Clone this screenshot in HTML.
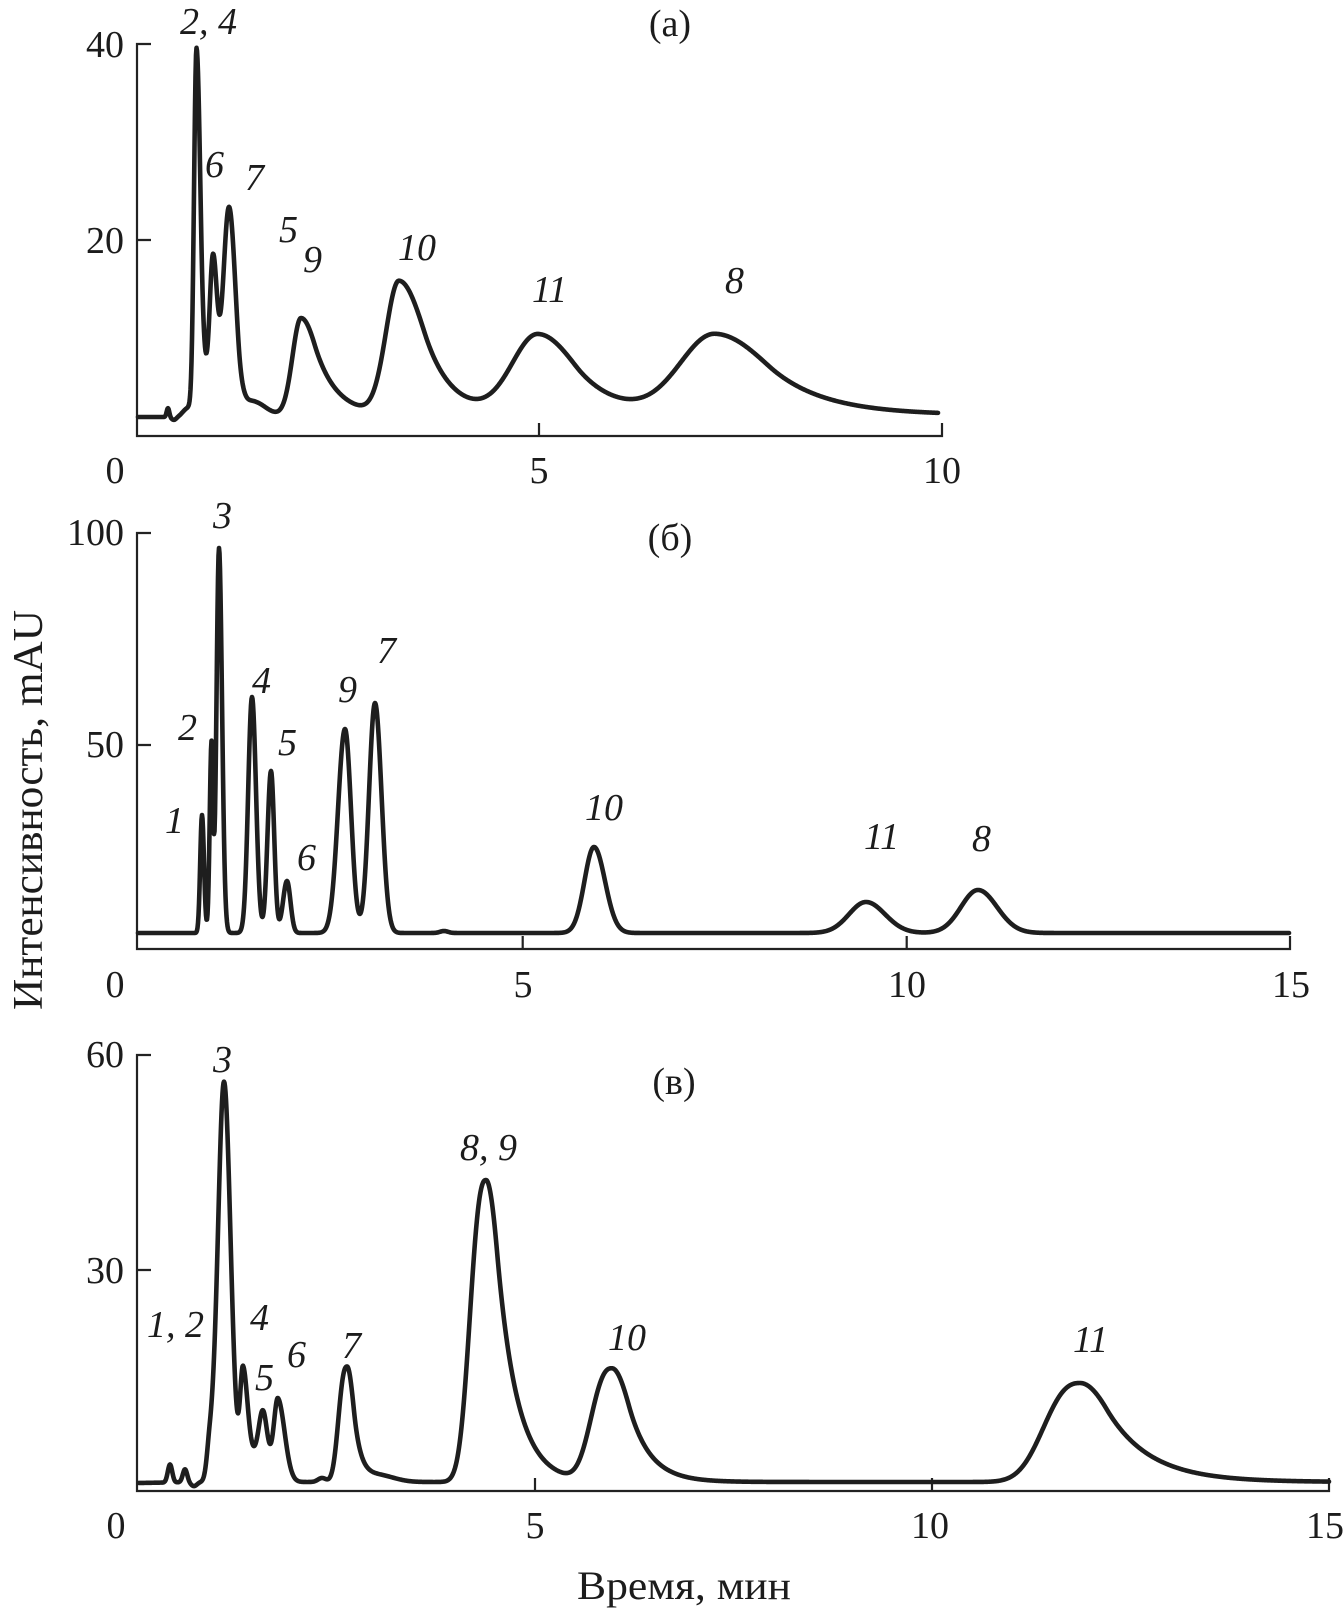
<!DOCTYPE html>
<html>
<head>
<meta charset="utf-8">
<style>
  html, body { margin: 0; padding: 0; background: #ffffff; }
  svg { display: block; }
  text { font-family: "Liberation Serif", "DejaVu Serif", serif; fill: #1c1c1c; }
  .tk { font-size: 38px; }
  .lb { font-size: 38px; font-style: italic; }
  .ax { stroke: #222; stroke-width: 2.2; fill: none; }
  .cv { stroke: #1e1e1e; stroke-width: 4.6; fill: none; stroke-linejoin: round; stroke-linecap: round; }
</style>
</head>
<body>
<svg id="chart" width="1344" height="1613" viewBox="0 0 1344 1613" xmlns="http://www.w3.org/2000/svg">
  <rect x="0" y="0" width="1344" height="1613" fill="#ffffff"/>

  <!-- ===== Panel (a) ===== -->
  <path class="ax" d="M151,44 L137,44 L137,436 L942,436 L942,423"/>
  <path class="ax" d="M137,240 L151,240 M539,436 L539,423"/>
  <text class="tk" x="124" y="57" text-anchor="end">40</text>
  <text class="tk" x="124" y="253" text-anchor="end">20</text>
  <text class="tk" x="115" y="483" text-anchor="middle">0</text>
  <text class="tk" x="539" y="483" text-anchor="middle">5</text>
  <text class="tk" x="942" y="483" text-anchor="middle">10</text>
  <text class="tk" x="670" y="36" text-anchor="middle">(a)</text>
  <text class="lb" x="180" y="34">2, 4</text>
  <text class="lb" x="205" y="177">6</text>
  <text class="lb" x="245" y="190">7</text>
  <text class="lb" x="279" y="242">5</text>
  <text class="lb" x="303" y="272">9</text>
  <text class="lb" x="398" y="260">10</text>
  <text class="lb" x="532" y="302">11</text>
  <text class="lb" x="725" y="293">8</text>
  <path id="ca" class="cv" d=""/>

  <!-- ===== Panel (б) ===== -->
  <path class="ax" d="M151,533 L137,533 L137,949 L1290,949 L1290,936"/>
  <path class="ax" d="M137,745 L151,745 M522.7,949 L522.7,936 M906.7,949 L906.7,936"/>
  <text class="tk" x="124" y="545" text-anchor="end">100</text>
  <text class="tk" x="124" y="757" text-anchor="end">50</text>
  <text class="tk" x="115" y="997" text-anchor="middle">0</text>
  <text class="tk" x="523" y="997" text-anchor="middle">5</text>
  <text class="tk" x="907" y="997" text-anchor="middle">10</text>
  <text class="tk" x="1291" y="997" text-anchor="middle">15</text>
  <text class="tk" x="670" y="550" text-anchor="middle">(б)</text>
  <text class="lb" x="213" y="528">3</text>
  <text class="lb" x="178" y="740">2</text>
  <text class="lb" x="165" y="833">1</text>
  <text class="lb" x="252" y="693">4</text>
  <text class="lb" x="278" y="755">5</text>
  <text class="lb" x="297" y="870">6</text>
  <text class="lb" x="338" y="702">9</text>
  <text class="lb" x="377" y="663">7</text>
  <text class="lb" x="585" y="820">10</text>
  <text class="lb" x="864" y="849">11</text>
  <text class="lb" x="972" y="851">8</text>
  <path id="cb" class="cv" d=""/>

  <!-- ===== Panel (в) ===== -->
  <path class="ax" d="M151,1055 L137,1055 L137,1491 L1329,1491 L1329,1478"/>
  <path class="ax" d="M137,1270 L151,1270 M535,1491 L535,1478 M932,1491 L932,1478"/>
  <text class="tk" x="124" y="1067" text-anchor="end">60</text>
  <text class="tk" x="124" y="1283" text-anchor="end">30</text>
  <text class="tk" x="116" y="1538" text-anchor="middle">0</text>
  <text class="tk" x="535" y="1538" text-anchor="middle">5</text>
  <text class="tk" x="930" y="1538" text-anchor="middle">10</text>
  <text class="tk" x="1325" y="1538" text-anchor="middle">15</text>
  <text class="tk" x="674" y="1094" text-anchor="middle">(в)</text>
  <text class="lb" x="213" y="1072">3</text>
  <text class="lb" x="147" y="1337">1, 2</text>
  <text class="lb" x="250" y="1330">4</text>
  <text class="lb" x="255" y="1390">5</text>
  <text class="lb" x="287" y="1367">6</text>
  <text class="lb" x="342" y="1358">7</text>
  <text class="lb" x="460" y="1160">8, 9</text>
  <text class="lb" x="608" y="1350">10</text>
  <text class="lb" x="1073" y="1352">11</text>
  <path id="cc" class="cv" d=""/>

  <!-- Axis titles -->
  <text transform="translate(42,810) rotate(-90)" text-anchor="middle" font-size="42" textLength="400" lengthAdjust="spacingAndGlyphs">Интенсивность, mAU</text>
  <text x="577" y="1599" font-size="40" textLength="214" lengthAdjust="spacingAndGlyphs">Время, мин</text>
</svg>

<script>
(function () {
  function f(d, sL, sR, k, pL) {
    if (d < 0) {
      var u = -d / sL;
      return Math.exp(-0.5 * Math.pow(u, pL));
    }
    var v = d / sR;
    if (v < k) return Math.exp(-0.5 * v * v);
    return Math.exp(0.5 * k * k - k * v);
  }
  function build(x0, x1, base, peaks) {
    var s = "";
    for (var x = x0; x <= x1 + 0.001; x += 0.5) {
      var y = base(x);
      for (var i = 0; i < peaks.length; i++) {
        var p = peaks[i];
        var k = (p[4] === undefined) ? 99 : p[4];
        var pL = (p[5] === undefined) ? 2 : p[5];
        y -= p[1] * f(x - p[0], p[2], p[3], k, pL);
      }
      s += (s ? " L" : "M") + x.toFixed(1) + "," + y.toFixed(2);
    }
    return s;
  }
  function lin(pts) {
    return function (x) {
      if (x <= pts[0][0]) return pts[0][1];
      for (var i = 1; i < pts.length; i++) {
        if (x <= pts[i][0]) {
          var a = pts[i - 1], b = pts[i];
          return a[1] + (b[1] - a[1]) * (x - a[0]) / (b[0] - a[0]);
        }
      }
      return pts[pts.length - 1][1];
    };
  }

  // Panel (a)
  var pa = [
    [168, 9, 1.3, 1.3],
    [174, -3, 2.5, 2.5],
    [188, 8, 5, 3],
    [196.5, 367, 2.5, 4, 1.2],
    [213, 150, 3.4, 4],
    [229, 208, 6, 6.5, 1.5],
    [255, 12, 8, 11],
    [301, 97, 8.5, 17, 0.8],
    [399, 133, 13, 26, 1],
    [538, 80, 26, 38, 1],
    [715, 80, 35, 54, 1]
  ];
  document.getElementById("ca").setAttribute("d",
    build(138, 938, lin([[137, 417], [180, 417], [195, 415], [940, 415]]), pa));

  // Panel (б)
  var pb = [
    [202, 118, 1.8, 2],
    [211.5, 188, 1.8, 1.5],
    [219, 385, 2.5, 3],
    [252, 236, 3.8, 4],
    [271, 162, 3.5, 3.2],
    [287, 52, 4, 3.5],
    [345, 204, 7, 6],
    [375, 230, 6, 6.5],
    [444, 2, 4, 4],
    [594, 86, 9.5, 11],
    [866, 31, 17, 19],
    [978, 43, 17, 19]
  ];
  document.getElementById("cb").setAttribute("d",
    build(138, 1289, lin([[137, 933], [1290, 933]]), pb));

  // Panel (в)
  var pc = [
    [170, 18, 2.2, 2.2],
    [185, 13, 2.2, 2.2],
    [194, -4, 3, 3],
    [210, 35, 3, 5],
    [224, 398, 6, 6.5],
    [243, 95, 2.8, 4.5],
    [260, 30, 15, 10],
    [263, 43, 4, 4],
    [278, 78, 4, 6.8],
    [322, 4, 4, 4],
    [347, 115, 8, 7, 1, 2.5],
    [380, 6, 15, 15],
    [486, 302, 15, 15, 0.75, 2.5],
    [612, 113, 19.5, 19, 0.9, 2.5],
    [1080, 99, 34, 34, 0.79, 2.5]
  ];
  document.getElementById("cc").setAttribute("d",
    build(139, 1329, lin([[137, 1483], [200, 1482], [1330, 1482]]), pc));
})();
</script>
</body>
</html>
